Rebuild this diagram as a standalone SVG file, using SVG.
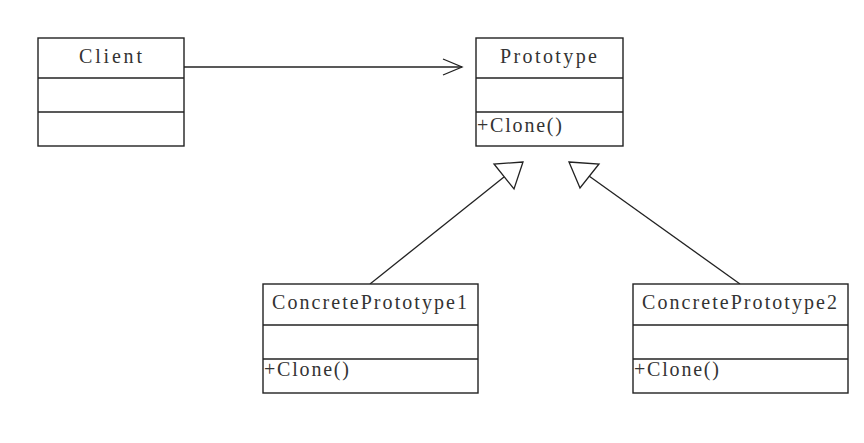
<svg xmlns="http://www.w3.org/2000/svg" width="864" height="443" viewBox="0 0 864 443">
  <style>
    .box { fill: #fff; stroke: #222; stroke-width: 1.4; }
    .sep { stroke: #222; stroke-width: 1.4; }
    .name { font-family: "Liberation Serif", "DejaVu Serif", serif; font-size: 20px; fill: #333; }
    .op { font-family: "Liberation Serif", "DejaVu Serif", serif; font-size: 20px; fill: #333; }
    .edge { fill: none; stroke: #222; stroke-width: 1.3; }
    .head { fill: #fff; stroke: #222; stroke-width: 1.3; }
  </style>
  <rect width="864" height="443" fill="#fff"/>

  <g id="connectors">
    <!-- association Client -> Prototype -->
    <line class="edge" x1="184" y1="67" x2="462" y2="67"/>
    <polyline class="edge" points="443,59 462,67 443,75"/>
    <!-- generalization ConcretePrototype1 -> Prototype -->
    <line class="edge" x1="370" y1="284" x2="504" y2="177"/>
    <polygon class="head" points="523,162 494,164 514,189"/>
    <!-- generalization ConcretePrototype2 -> Prototype -->
    <line class="edge" x1="740" y1="284" x2="589" y2="176"/>
    <polygon class="head" points="569,162 599,164 580,188"/>
  </g>

  <g id="client">
    <rect class="box" x="38" y="38" width="146" height="108"/>
    <line class="sep" x1="38" y1="78" x2="184" y2="78"/>
    <line class="sep" x1="38" y1="112" x2="184" y2="112"/>
    <text class="name" x="79" y="63" textLength="63" lengthAdjust="spacing">Client</text>
  </g>

  <g id="prototype">
    <rect class="box" x="476" y="38" width="147" height="108"/>
    <line class="sep" x1="476" y1="78" x2="623" y2="78"/>
    <line class="sep" x1="476" y1="112" x2="623" y2="112"/>
    <text class="name" x="500" y="63" textLength="97" lengthAdjust="spacing">Prototype</text>
    <text class="op" x="477" y="132" textLength="85" lengthAdjust="spacing">+Clone()</text>
  </g>

  <g id="concrete1">
    <rect class="box" x="263" y="284" width="215" height="109"/>
    <line class="sep" x1="263" y1="325" x2="478" y2="325"/>
    <line class="sep" x1="263" y1="359" x2="478" y2="359"/>
    <text class="name" x="272" y="309" textLength="195" lengthAdjust="spacing">ConcretePrototype1</text>
    <text class="op" x="264" y="376" textLength="85" lengthAdjust="spacing">+Clone()</text>
  </g>

  <g id="concrete2">
    <rect class="box" x="633" y="284" width="215" height="109"/>
    <line class="sep" x1="633" y1="325" x2="848" y2="325"/>
    <line class="sep" x1="633" y1="359" x2="848" y2="359"/>
    <text class="name" x="642" y="309" textLength="195" lengthAdjust="spacing">ConcretePrototype2</text>
    <text class="op" x="634" y="376" textLength="85" lengthAdjust="spacing">+Clone()</text>
  </g>
</svg>
